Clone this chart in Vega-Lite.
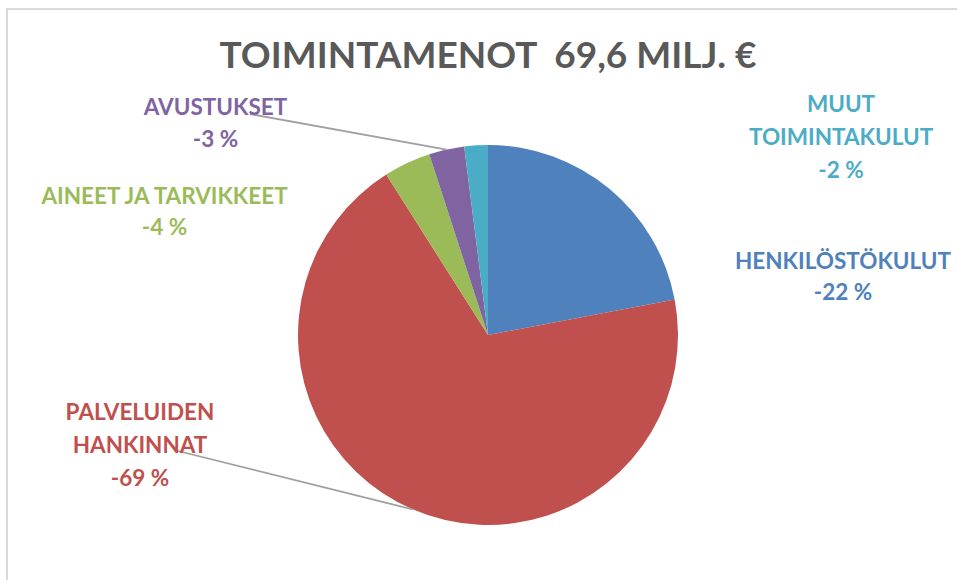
{
  "$schema": "https://vega.github.io/schema/vega-lite/v6.json",
  "width": 962,
  "height": 652,
  "autosize": {"type": "none"},
  "padding": {"left": 7, "top": 9, "right": -12, "bottom": -81},
  "background": "white",
  "config": {"view": {"stroke": "#d9d9d9", "strokeWidth": 2}, "font": "Lato"},
  "title": {"text": "TOIMINTAMENOT\u00a0 69,6 MILJ. €", "fontSize": 37, "fontWeight": "bold", "color": "#595959", "font": "Lato", "offset": -67, "anchor": "middle"},
  "data": {"values": [
    {"category": "HENKILÖSTÖKULUT", "value": 22, "order": 1, "label": "HENKILÖSTÖKULUT|-22 %"},
    {"category": "PALVELUIDEN HANKINNAT", "value": 69, "order": 2, "label": "PALVELUIDEN|HANKINNAT|-69 %"},
    {"category": "AINEET JA TARVIKKEET", "value": 4, "order": 3, "label": "AINEET JA TARVIKKEET|-4 %"},
    {"category": "AVUSTUKSET", "value": 3, "order": 4, "label": "AVUSTUKSET|-3 %"},
    {"category": "MUUT TOIMINTAKULUT", "value": 2, "order": 5, "label": "MUUT|TOIMINTAKULUT|-2 %"}
  ]},
  "transform": [
    {"window": [{"op": "sum", "field": "value", "as": "cum"}], "sort": [{"field": "order"}], "frame": [null, 0]},
    {"calculate": "datum.cum - datum.value / 2", "as": "mid"},
    {"calculate": "2 * PI * datum.mid / 100", "as": "ang"}
  ],
  "layer": [
    {
      "mark": {"type": "arc", "outerRadius": 190},
      "encoding": {
        "theta": {"field": "value", "type": "quantitative", "stack": true, "scale": {"domain": [0, 100]}},
        "order": {"field": "order", "type": "quantitative"},
        "color": {"field": "category", "type": "nominal", "legend": null,
          "scale": {"domain": ["HENKILÖSTÖKULUT", "PALVELUIDEN HANKINNAT", "AINEET JA TARVIKKEET", "AVUSTUKSET", "MUUT TOIMINTAKULUT"],
                    "range": ["#4F81BD", "#C0504D", "#9BBB59", "#8064A2", "#4BACC6"]}}
      }
    },
    {
      "transform": [{"filter": "datum.order == 4"}, {"calculate": "190 * sin(datum.ang)", "as": "rx"}, {"calculate": "190 * cos(datum.ang)", "as": "ry"}, {"calculate": "-238", "as": "lx"}, {"calculate": "221", "as": "ly"}],
      "mark": {"type": "rule", "color": "#a0a0a0", "strokeWidth": 1.8},
      "encoding": {
        "x": {"field": "rx", "type": "quantitative", "scale": {"domain": [-481, 481], "nice": false, "zero": false}, "axis": null},
        "x2": {"field": "lx"},
        "y": {"field": "ry", "type": "quantitative", "scale": {"domain": [-326, 326], "nice": false, "zero": false}, "axis": null},
        "y2": {"field": "ly"}
      }
    },
    {
      "transform": [{"filter": "datum.order == 2"}, {"calculate": "190 * sin(datum.ang)", "as": "rx"}, {"calculate": "190 * cos(datum.ang)", "as": "ry"}, {"calculate": "-310", "as": "lx"}, {"calculate": "-116", "as": "ly"}],
      "mark": {"type": "rule", "color": "#a0a0a0", "strokeWidth": 1.8},
      "encoding": {
        "x": {"field": "rx", "type": "quantitative", "scale": {"domain": [-481, 481], "nice": false, "zero": false}, "axis": null},
        "x2": {"field": "lx"},
        "y": {"field": "ry", "type": "quantitative", "scale": {"domain": [-326, 326], "nice": false, "zero": false}, "axis": null},
        "y2": {"field": "ly"}
      }
    },
    {
      "transform": [{"filter": "datum.order == 5"}],
      "mark": {"type": "text", "radius": 200, "dx": 365.6, "dy": -29.9, "fontSize": 22.5, "fontWeight": "bold", "lineHeight": 33, "lineBreak": "|", "align": "center", "baseline": "middle"},
      "encoding": {"theta": {"field": "mid", "type": "quantitative", "stack": null}, "text": {"field": "label"}, "color": {"field": "category", "type": "nominal", "legend": null}}
    },
    {
      "transform": [{"filter": "datum.order == 1"}],
      "mark": {"type": "text", "radius": 200, "dx": 227.5, "dy": 81.1, "fontSize": 22.5, "fontWeight": "bold", "lineHeight": 31, "lineBreak": "|", "align": "center", "baseline": "middle"},
      "encoding": {"theta": {"field": "mid", "type": "quantitative", "stack": null}, "text": {"field": "label"}, "color": {"field": "category", "type": "nominal", "legend": null}}
    },
    {
      "transform": [{"filter": "datum.order == 2"}],
      "mark": {"type": "text", "radius": 200, "dx": -268.6, "dy": -105.6, "fontSize": 22.5, "fontWeight": "bold", "lineHeight": 33, "lineBreak": "|", "align": "center", "baseline": "middle"},
      "encoding": {"theta": {"field": "mid", "type": "quantitative", "stack": null}, "text": {"field": "label"}, "color": {"field": "category", "type": "nominal", "legend": null}}
    },
    {
      "transform": [{"filter": "datum.order == 3"}],
      "mark": {"type": "text", "radius": 200, "dx": -238.3, "dy": 42.5, "fontSize": 22.5, "fontWeight": "bold", "lineHeight": 31, "lineBreak": "|", "align": "center", "baseline": "middle"},
      "encoding": {"theta": {"field": "mid", "type": "quantitative", "stack": null}, "text": {"field": "label"}, "color": {"field": "category", "type": "nominal", "legend": null}}
    },
    {
      "transform": [{"filter": "datum.order == 4"}],
      "mark": {"type": "text", "radius": 200, "dx": -228.9, "dy": -31.8, "fontSize": 22.5, "fontWeight": "bold", "lineHeight": 32, "lineBreak": "|", "align": "center", "baseline": "middle"},
      "encoding": {"theta": {"field": "mid", "type": "quantitative", "stack": null}, "text": {"field": "label"}, "color": {"field": "category", "type": "nominal", "legend": null}}
    }
  ]
}
